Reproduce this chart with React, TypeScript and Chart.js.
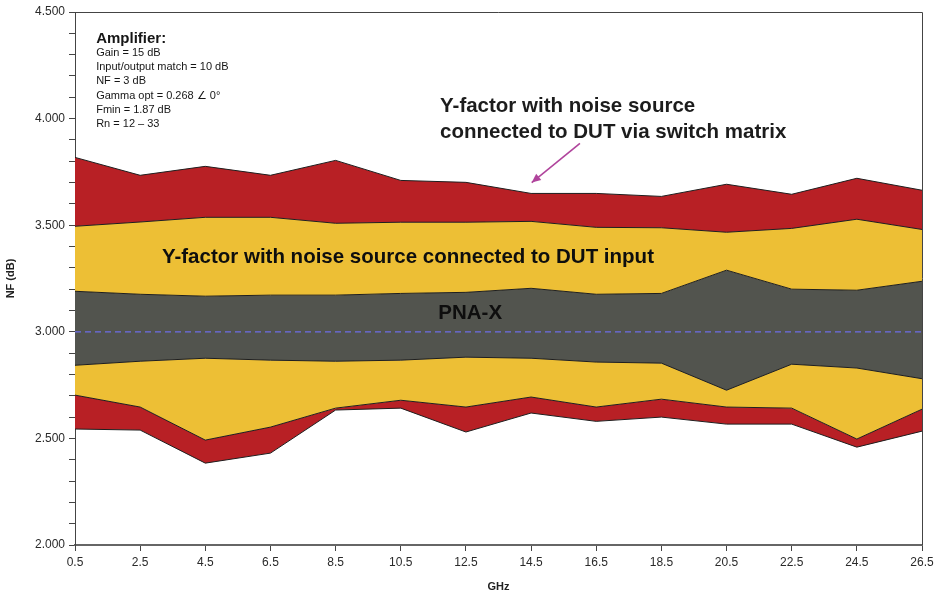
import React, { useEffect, useRef } from 'react';
import { Chart, registerables } from 'chart.js';

Chart.register(...registerables);

// ---------- data ----------
const freqs = [0.5, 2.5, 4.5, 6.5, 8.5, 10.5, 12.5, 14.5, 16.5, 18.5, 20.5, 22.5, 24.5, 26.5];
const switchUpper = [3.818, 3.734, 3.776, 3.734, 3.804, 3.71, 3.701, 3.649, 3.649, 3.635, 3.692, 3.645, 3.72, 3.664];
const directUpper = [3.495, 3.515, 3.537, 3.537, 3.509, 3.514, 3.514, 3.518, 3.49, 3.488, 3.467, 3.485, 3.528, 3.48];
const pnaUpper = [3.19, 3.176, 3.167, 3.172, 3.172, 3.18, 3.185, 3.204, 3.176, 3.18, 3.289, 3.2, 3.195, 3.237];
const pnaLower = [2.843, 2.862, 2.876, 2.867, 2.862, 2.867, 2.881, 2.876, 2.858, 2.853, 2.726, 2.848, 2.83, 2.78];
const directLower = [2.703, 2.647, 2.492, 2.553, 2.642, 2.679, 2.647, 2.694, 2.647, 2.684, 2.647, 2.642, 2.497, 2.637];
const switchLower = [2.544, 2.539, 2.384, 2.431, 2.633, 2.642, 2.53, 2.619, 2.58, 2.6, 2.567, 2.567, 2.459, 2.534];
const referenceNF = 3.0;

const xTickValues = [0.5, 2.5, 4.5, 6.5, 8.5, 10.5, 12.5, 14.5, 16.5, 18.5, 20.5, 22.5, 24.5, 26.5];
const yMajorTicks = [2.0, 2.5, 3.0, 3.5, 4.0, 4.5];

const ampLines = [
  'Amplifier:',
  'Gain = 15 dB',
  'Input/output match = 10 dB',
  'NF = 3 dB',
  'Gamma opt = 0.268 \u2220 0\u00b0',
  'Fmin = 1.87 dB',
  'Rn = 12 \u2013 33',
];
const switchLabel = ['Y-factor with noise source', 'connected to DUT via switch matrix'];
const directLabel = 'Y-factor with noise source connected to DUT input';
const pnaLabel = 'PNA-X';

const RED = '#b82025';
const YELLOW = '#edbf35';
const GRAY = '#52544e';
const EDGE = '#1e1e1e';
const FONT = "'Liberation Sans', Arial, Helvetica, sans-serif";

const pts = (ys: number[]) => freqs.map((x, i) => ({ x, y: ys[i] }));

const annotations = {
  id: 'annotations',
  afterDraw(chart: any) {
    const { ctx, chartArea, scales } = chart;
    const xs = scales.x;
    const ys = scales.y;
    ctx.save();
    // frame (top and right)
    ctx.strokeStyle = '#444';
    ctx.lineWidth = 1;
    const L = Math.round(chartArea.left), R = Math.round(chartArea.right);
    const T = Math.round(chartArea.top);
    const B = Math.round(chartArea.bottom);
    ctx.beginPath();
    ctx.moveTo(L, T + 0.5);
    ctx.lineTo(R + 0.5, T + 0.5);
    ctx.lineTo(R + 0.5, B);
    ctx.stroke();

    ctx.fillStyle = '#161616';
    ctx.textBaseline = 'middle';
    // amplifier block
    const ax = xs.getPixelForValue(1.15);
    const ay = ys.getPixelForValue(4.376);
    const offs = [0, 15, 29, 43, 58, 72, 86];
    ampLines.forEach((t, i) => {
      ctx.font = i === 0 ? `bold 15px ${FONT}` : `11px ${FONT}`;
      ctx.textAlign = 'left';
      ctx.fillText(t, ax, ay + offs[i]);
    });

    // switch matrix label
    ctx.font = `bold 20.5px ${FONT}`;
    ctx.fillStyle = '#1c1c1c';
    const sx = xs.getPixelForValue(11.705);
    const sy = ys.getPixelForValue(4.057);
    ctx.fillText(switchLabel[0], sx, sy);
    ctx.fillText(switchLabel[1], sx, sy + 26);

    // direct label
    ctx.fillStyle = '#0e0e0e';
    ctx.textAlign = 'center';
    ctx.fillText(directLabel, xs.getPixelForValue(10.72), ys.getPixelForValue(3.35));
    ctx.fillText(pnaLabel, xs.getPixelForValue(12.63), ys.getPixelForValue(3.087));

    // arrow
    const x1 = xs.getPixelForValue(16.0), y1 = ys.getPixelForValue(3.884);
    const x2 = xs.getPixelForValue(14.52), y2 = ys.getPixelForValue(3.7);
    ctx.strokeStyle = '#b0449c';
    ctx.fillStyle = '#b0449c';
    ctx.lineWidth = 1.6;
    ctx.beginPath();
    ctx.moveTo(x1, y1);
    ctx.lineTo(x2, y2);
    ctx.stroke();
    const ang = Math.atan2(y2 - y1, x2 - x1);
    const hl = 9, hw = 4;
    ctx.beginPath();
    ctx.moveTo(x2, y2);
    ctx.lineTo(x2 - hl * Math.cos(ang) + hw * Math.sin(ang), y2 - hl * Math.sin(ang) - hw * Math.cos(ang));
    ctx.lineTo(x2 - hl * Math.cos(ang) - hw * Math.sin(ang), y2 - hl * Math.sin(ang) + hw * Math.cos(ang));
    ctx.closePath();
    ctx.fill();
    ctx.restore();
  },
};

export default function App() {
  const ref = useRef<HTMLCanvasElement>(null);
  useEffect(() => {
    if (!ref.current) return;
    const base = { pointRadius: 0, borderWidth: 1, borderColor: EDGE, tension: 0 };
    const chart = new Chart(ref.current, {
      type: 'line',
      data: {
        datasets: [
          { ...base, data: pts(switchUpper), fill: '+1', backgroundColor: RED },
          { ...base, data: pts(directUpper), fill: '+1', backgroundColor: YELLOW },
          { ...base, data: pts(pnaUpper), fill: '+1', backgroundColor: GRAY },
          { ...base, data: pts(pnaLower), fill: '+1', backgroundColor: YELLOW },
          { ...base, data: pts(directLower), fill: '+1', backgroundColor: RED },
          { ...base, data: pts(switchLower), fill: false },
          {
            data: [{ x: freqs[0], y: referenceNF }, { x: freqs[freqs.length - 1], y: referenceNF }],
            pointRadius: 0, borderWidth: 1.2, borderColor: '#6c6ce6', borderDash: [6, 4], fill: false,
            order: -1,
          },
        ],
      },
      options: {
        animation: false,
        responsive: true,
        maintainAspectRatio: false,
        layout: { padding: { left: 0, right: 18, top: 12, bottom: 0 } },
        plugins: {
          legend: { display: false },
          tooltip: { enabled: false },
          filler: { drawTime: 'beforeDatasetsDraw' },
        } as any,
        scales: {
          x: {
            type: 'linear',
            min: xTickValues[0],
            max: xTickValues[xTickValues.length - 1],
            afterBuildTicks: (s: any) => { s.ticks = xTickValues.map((v) => ({ value: v })); },
            afterFit: (s: any) => { s.height = 52; },
            ticks: {
              autoSkip: false, maxRotation: 0, minRotation: 0, padding: 4,
              color: '#2a2a2a', font: { family: FONT, size: 12 },
              callback: (v: any) => String(v),
            },
            grid: { drawOnChartArea: false, drawTicks: true, tickLength: 6, color: '#444' },
            border: { color: '#666', width: 2 },
            title: { display: true, text: 'GHz', color: '#222', font: { family: FONT, size: 11, weight: 'bold' }, padding: { top: 0, bottom: 3 } },
          },
          y: {
            type: 'linear',
            min: yMajorTicks[0],
            max: yMajorTicks[yMajorTicks.length - 1],
            afterFit: (s: any) => { s.width = 75; },
            ticks: {
              stepSize: 0.1, autoSkip: false, padding: 4,
              color: '#2a2a2a', font: { family: FONT, size: 12 },
              callback: (v: any) => {
                const m = yMajorTicks.find((t) => Math.abs(t - v) < 1e-6);
                return m !== undefined ? m.toFixed(3) : '';
              },
            },
            grid: { drawOnChartArea: false, drawTicks: true, tickLength: 6, color: '#444' },
            border: { color: '#444', width: 1 },
            title: { display: true, text: 'NF (dB)', color: '#222', font: { family: FONT, size: 11, weight: 'bold' }, padding: { top: 4, bottom: 0 } },
          },
        },
      },
      plugins: [annotations],
    });
    return () => chart.destroy();
  }, []);
  return (
    <div style={{ position: 'absolute', left: 0, top: 0, width: 940, height: 597, background: '#fff' }}>
      <canvas ref={ref} />
    </div>
  );
}
